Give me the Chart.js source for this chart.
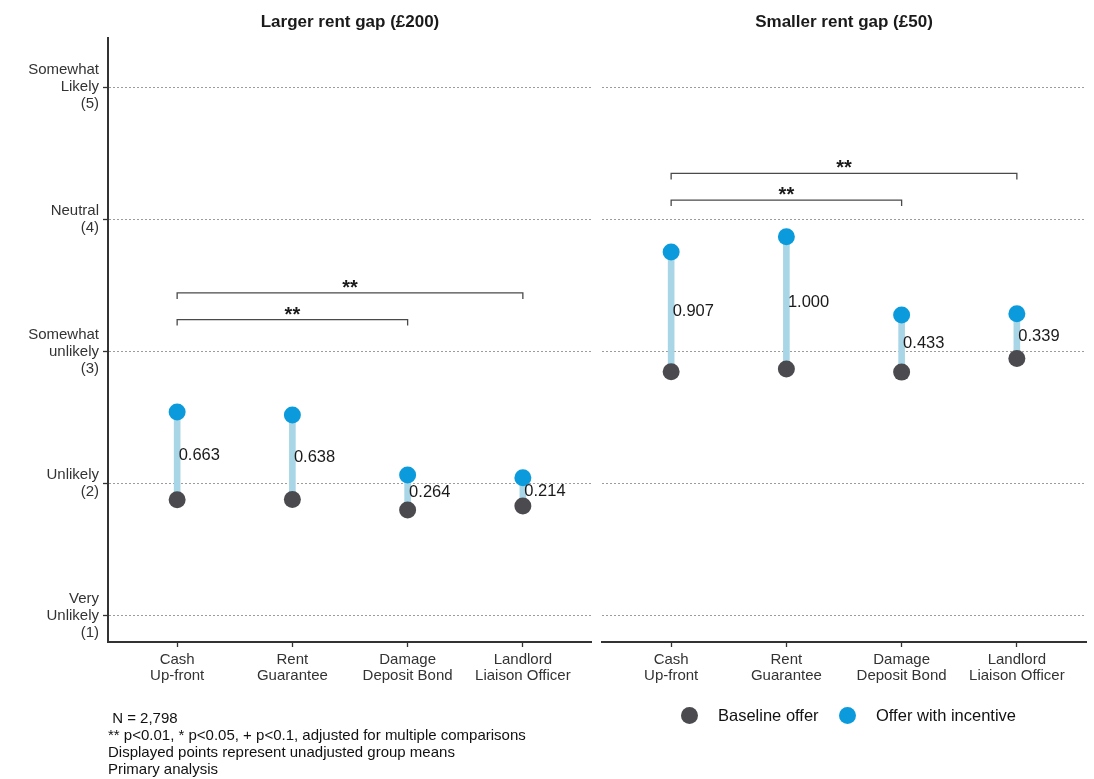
<!DOCTYPE html>
<html>
<head>
<meta charset="utf-8">
<script src="https://cdn.jsdelivr.net/npm/chart.js@4.4.1/dist/chart.umd.min.js"></script>
<style>
  html, body { margin: 0; padding: 0; background: #fff; }
  body { width: 1094px; height: 779px; position: relative; overflow: hidden;
         font-family: "Liberation Sans", Arial, sans-serif; color: #111; }
  canvas { position: absolute; top: 0; }
  #panelLarge { left: 0; }
  #panelSmall { left: 597px; }
  .title { position: absolute; top: 12px; font-weight: bold; font-size: 17px; line-height: 20px;
           transform: translateX(-50%); white-space: nowrap; color: #1a1a1a; }
  .notes { position: absolute; left: 108px; top: 709px; font-size: 15px; line-height: 17px;
           white-space: pre; color: #111; }
  .key { position: absolute; top: 706px; height: 18px; display: flex; align-items: center;
         font-size: 16.5px; white-space: nowrap; color: #111; }
  .dot { width: 17px; height: 17px; border-radius: 50%; margin-right: 20px; }
</style>
</head>
<body>
<canvas id="panelLarge" width="592" height="779"></canvas>
<canvas id="panelSmall" width="497" height="779"></canvas>
<div class="title" id="titleLarge" style="left:350px"></div>
<div class="title" id="titleSmall" style="left:844px"></div>
<div class="notes" id="notes"></div>
<div class="key" id="keyBase" style="left:681px"><div class="dot" id="dotBase"></div><span id="lblBase"></span></div>
<div class="key" id="keyInc" style="left:839px"><div class="dot" id="dotInc"></div><span id="lblInc"></span></div>
<script>
// Incentive options on the x axis
const categories = [
  ['Cash', 'Up-front'],
  ['Rent', 'Guarantee'],
  ['Damage', 'Deposit Bond'],
  ['Landlord', 'Liaison Officer']
];
const panelTitles = ['Larger rent gap (£200)', 'Smaller rent gap (£50)'];

// Likelihood scale
const yTickValues = [1, 2, 3, 4, 5];
const yTickLabels = [
  ['Very', 'Unlikely', '(1)'],
  ['Unlikely', '(2)'],
  ['Somewhat', 'unlikely', '(3)'],
  ['Neutral', '(4)'],
  ['Somewhat', 'Likely', '(5)']
];

// Group means: baseline offer and the gain from adding the incentive
const largeBaseline = [1.880, 1.882, 1.802, 1.832];
const largeGain     = [0.663, 0.638, 0.264, 0.214];
const smallBaseline = [2.847, 2.869, 2.845, 2.948];
const smallGain     = [0.907, 1.000, 0.433, 0.339];

// Pairwise comparisons (category numbers and bracket height on the scale)
const largeCmpFrom  = [1, 1];
const largeCmpTo    = [4, 3];
const largeCmpLevel = [3.444, 3.242];
const largeCmpSig   = ['**', '**'];
const smallCmpFrom  = [1, 1];
const smallCmpTo    = [4, 3];
const smallCmpLevel = [4.348, 4.146];
const smallCmpSig   = ['**', '**'];

const legendLabels = ['Baseline offer', 'Offer with incentive'];
const noteLines = [
  ' N = 2,798',
  '** p<0.01, * p<0.05, + p<0.1, adjusted for multiple comparisons',
  'Displayed points represent unadjusted group means',
  'Primary analysis'
];

const COL_BASE = '#4a4a4f';
const COL_INC = '#0b9bdc';
const COL_STEM = '#a9d6e6';
const FONT = '"Liberation Sans", Arial, sans-serif';

document.getElementById('titleLarge').textContent = panelTitles[0];
document.getElementById('titleSmall').textContent = panelTitles[1];
document.getElementById('notes').textContent = noteLines.join('\n');
document.getElementById('lblBase').textContent = legendLabels[0];
document.getElementById('lblInc').textContent = legendLabels[1];
document.getElementById('dotBase').style.background = COL_BASE;
document.getElementById('dotInc').style.background = COL_INC;

// Gain labels beside each stem and significance stars above brackets
const annotations = {
  id: 'annotations',
  afterDatasetsDraw(chart, args, opts) {
    const { ctx, scales: { x, y } } = chart;
    ctx.save();
    ctx.fillStyle = '#1a1a1a';
    ctx.font = '16.5px ' + FONT;
    ctx.textAlign = 'left';
    ctx.textBaseline = 'middle';
    opts.baseline.forEach((b, i) => {
      const g = opts.gain[i];
      ctx.fillText(g.toFixed(3), x.getPixelForValue(i + 1) + 1.5, y.getPixelForValue(b + g / 2));
    });
    ctx.font = 'bold 20px ' + FONT;
    ctx.textAlign = 'center';
    ctx.textBaseline = 'alphabetic';
    opts.from.forEach((f, i) => {
      const cx = (x.getPixelForValue(f) + x.getPixelForValue(opts.to[i])) / 2;
      ctx.fillText(opts.sig[i], cx, y.getPixelForValue(opts.level[i]) + 1);
    });
    ctx.restore();
  }
};

function makePanel(canvasId, baseline, gain, from, to, level, sig, withYAxis, padRight) {
  const hook = 0.045;
  const datasets = [
    {
      type: 'bar',
      data: baseline.map((b, i) => ({ x: i + 1, y: [b, b + gain[i]] })),
      backgroundColor: COL_STEM,
      borderWidth: 0,
      barThickness: 6,
      order: 5
    },
    {
      type: 'scatter',
      data: baseline.map((b, i) => ({ x: i + 1, y: b })),
      pointRadius: 8.5,
      pointHoverRadius: 8.5,
      backgroundColor: COL_BASE,
      borderWidth: 0,
      order: 1
    },
    {
      type: 'scatter',
      data: baseline.map((b, i) => ({ x: i + 1, y: b + gain[i] })),
      pointRadius: 8.5,
      pointHoverRadius: 8.5,
      backgroundColor: COL_INC,
      borderWidth: 0,
      order: 0
    }
  ];
  from.forEach((f, i) => {
    datasets.push({
      type: 'line',
      data: [
        { x: f, y: level[i] - hook }, { x: f, y: level[i] },
        { x: to[i], y: level[i] }, { x: to[i], y: level[i] - hook }
      ],
      borderColor: '#4a4a4a',
      borderWidth: 1.3,
      pointRadius: 0,
      fill: false,
      tension: 0,
      order: 3
    });
  });

  return new Chart(document.getElementById(canvasId), {
    type: 'bar',
    data: { datasets },
    plugins: [annotations],
    options: {
      responsive: false,
      devicePixelRatio: 1,
      animation: false,
      events: [],
      layout: { autoPadding: false, padding: { top: 38, left: 0, right: padRight, bottom: 0 } },
      plugins: {
        legend: { display: false },
        tooltip: { enabled: false },
        annotations: { baseline, gain, from, to, level, sig }
      },
      scales: {
        x: {
          type: 'linear',
          min: 0.4,
          max: 4.6,
          offset: false,
          afterBuildTicks: s => { s.ticks = categories.map((c, i) => ({ value: i + 1 })); },
          afterFit: s => { s.height = 137; },
          ticks: {
            callback: v => categories[v - 1],
            color: '#333',
            font: { family: FONT, size: 15, lineHeight: 1.12 },
            padding: 4,
            maxRotation: 0,
            autoSkip: false
          },
          grid: {
            offset: false,
            drawOnChartArea: false,
            drawTicks: true,
            tickLength: 5,
            tickColor: '#333',
            tickWidth: 1.3,
            color: '#333'
          },
          border: { display: true, color: '#333', width: 2 }
        },
        y: {
          type: 'linear',
          min: 0.803,
          max: 5.373,
          afterBuildTicks: s => { s.ticks = yTickValues.map(v => ({ value: v })); },
          afterFit: s => { s.width = withYAxis ? 108 : 5; },
          ticks: {
            display: withYAxis,
            callback: v => yTickLabels[yTickValues.indexOf(v)],
            color: '#333',
            font: { family: FONT, size: 15, lineHeight: 1.13 },
            padding: 4
          },
          grid: {
            color: '#9c9c9c',
            lineWidth: 1,
            drawTicks: withYAxis,
            tickLength: 5,
            tickColor: '#333',
            tickWidth: 1.3,
            tickBorderDash: []
          },
          border: { display: withYAxis, color: '#333', width: 2, dash: [2, 2] }
        }
      }
    }
  });
}

makePanel('panelLarge', largeBaseline, largeGain, largeCmpFrom, largeCmpTo, largeCmpLevel, largeCmpSig, true, 0);
makePanel('panelSmall', smallBaseline, smallGain, smallCmpFrom, smallCmpTo, smallCmpLevel, smallCmpSig, false, 8);
</script>
</body>
</html>
